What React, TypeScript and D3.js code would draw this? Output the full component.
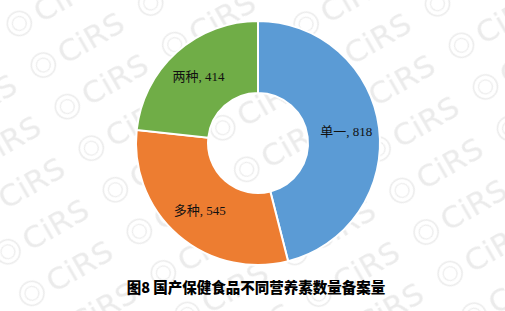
import React from "react";
import * as d3 from "d3";

const categories = ["单一", "多种", "两种"];
const counts = [818, 545, 414];
const colors = ["#5B9BD5", "#ED7D31", "#70AD47"];
const title = "图8 国产保健食品不同营养素数量备案量";
const watermark = "CiRS";

const W = 505;
const H = 311;
const cx = 258;
const cy = 143;
const outerR = 122;
const innerR = 50;

export default function App() {
  const pie = d3
    .pie<number>()
    .sort(null)
    .value((d) => d);
  const arcs = pie(counts);
  const arc = d3.arc<d3.PieArcDatum<number>>().innerRadius(innerR).outerRadius(outerR);
  const labelArc = d3
    .arc<d3.PieArcDatum<number>>()
    .innerRadius((innerR + outerR) / 2 + 3)
    .outerRadius((innerR + outerR) / 2 + 3);

  return (
    <svg
      width={W}
      height={H}
      style={{ position: "absolute", left: 0, top: 0, background: "#fff" }}
    >
      <defs>
        <pattern
          id="wm"
          width={124}
          height={48}
          patternUnits="userSpaceOnUse"
          patternTransform="rotate(-30) translate(-10 6)"
        >
          <circle cx={15} cy={24} r={12} fill="none" stroke="#ebebeb" strokeWidth={1.6} />
          <circle cx={15} cy={24} r={7} fill="none" stroke="#ebebeb" strokeWidth={1.2} />
          <text
            x={34}
            y={35}
            fontFamily="'DejaVu Sans', sans-serif"
            fontSize={31}
            fill="#ebebeb"
          >
            {watermark}
          </text>
        </pattern>
      </defs>
      <rect x={0} y={0} width={W} height={H} fill="url(#wm)" />
      <g transform={`translate(${cx},${cy})`}>
        {arcs.map((a, i) => (
          <path key={categories[i]} d={arc(a) || ""} fill={colors[i]} stroke="#fff" strokeWidth={2} />
        ))}
        {arcs.map((a, i) => {
          const [x, y] = labelArc.centroid(a);
          return (
            <text
              key={`l-${categories[i]}`}
              x={x}
              y={y}
              textAnchor="middle"
              dominantBaseline="central"
              fontFamily="'Liberation Serif', 'Noto Sans CJK SC', serif"
              fontSize={13}
              fill="#111"
            >
              {`${categories[i]}, ${counts[i]}`}
            </text>
          );
        })}
      </g>
      <text
        x={256}
        y={293}
        textAnchor="middle"
        fontFamily="'Noto Sans CJK SC', sans-serif"
        fontSize={14.5}
        fontWeight={900}
        fill="#000"
      >
        {title}
      </text>
    </svg>
  );
}
